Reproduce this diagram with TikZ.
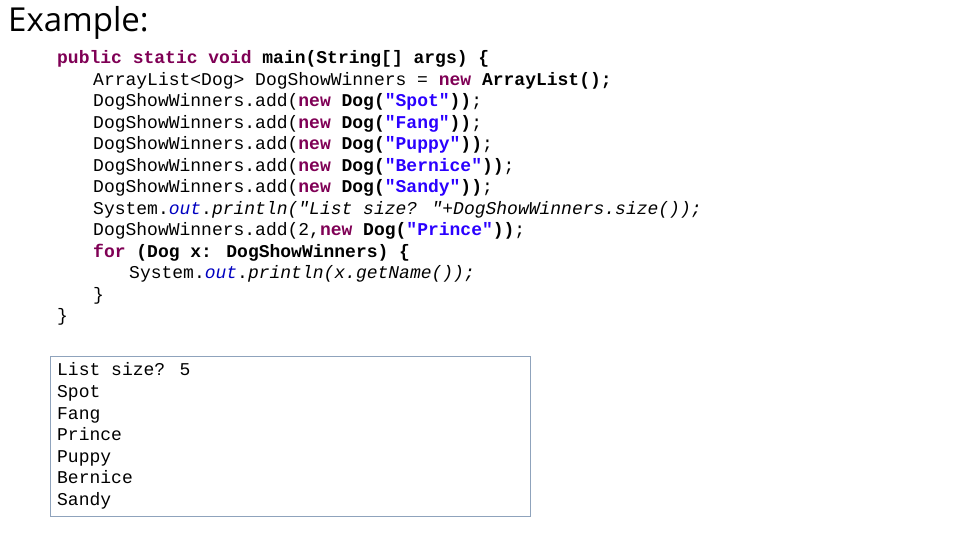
\documentclass[tikz,border=0pt]{standalone}
\usepackage{fontspec}
\setmainfont{Open Sans}
\newfontfamily\cmono{Liberation Mono}
\definecolor{kw}{HTML}{7F0055}
\definecolor{st}{HTML}{2A00FF}
\definecolor{fld}{HTML}{0000C0}
\definecolor{boxc}{HTML}{8FA3BC}
\newcommand{\kwd}[1]{\textcolor{kw}{\bfseries #1}}
\newcommand{\strg}[1]{\textcolor{st}{\bfseries #1}}
\newcommand{\outf}{\textcolor{fld}{\itshape out}}
\begin{document}
\begin{tikzpicture}[x=1bp,y=-1bp,
  code/.style={anchor=base west,inner sep=0pt,font=\cmono\fontsize{18bp}{21bp}\selectfont}]
\useasboundingbox (0,0) rectangle (960,540);
\node[anchor=base west,inner sep=0pt,font=\fontseries{l}\fontsize{33bp}{36bp}\selectfont] (title) at (8,32) {Example:};
\node[code] (l1) at (57,64) {\kwd{public static void} \textbf{main(String[] args) \{}};
\node[code] (l2) at (93,85.5) {ArrayList<Dog> DogShowWinners = \kwd{new} \textbf{ArrayList();}};
\node[code] (l3) at (93,107) {DogShowWinners.add(\kwd{new} \textbf{Dog(}\strg{"Spot"}\textbf{))};};
\node[code] (l4) at (93,128.5) {DogShowWinners.add(\kwd{new} \textbf{Dog(}\strg{"Fang"}\textbf{))};};
\node[code] (l5) at (93,150) {DogShowWinners.add(\kwd{new} \textbf{Dog(}\strg{"Puppy"}\textbf{))};};
\node[code] (l6) at (93,171.5) {DogShowWinners.add(\kwd{new} \textbf{Dog(}\strg{"Bernice"}\textbf{))};};
\node[code] (l7) at (93,193) {DogShowWinners.add(\kwd{new} \textbf{Dog(}\strg{"Sandy"}\textbf{))};};
\node[code] (l8) at (93,214.5) {System.\outf{}.{\itshape println("List size? "+DogShowWinners.size());}};
\node[code] (l9) at (93,236) {DogShowWinners.add(2,\kwd{new} \textbf{Dog(}\strg{"Prince"}\textbf{))};};
\node[code] (l10) at (93,257.5) {\kwd{for} \textbf{(Dog x: DogShowWinners) \{}};
\node[code] (l11) at (129,279) {System.\outf{}.{\itshape println(x.getName());}};
\node[code] (l12) at (93,300.5) {\}};
\node[code] (l13) at (57,322) {\}};
\draw[boxc,line width=1bp] (50,356) rectangle (530,516);
\node[code] (o1) at (57,376) {List size? 5};
\node[code] (o2) at (57,397.5) {Spot};
\node[code] (o3) at (57,419) {Fang};
\node[code] (o4) at (57,440.5) {Prince};
\node[code] (o5) at (57,462) {Puppy};
\node[code] (o6) at (57,483.5) {Bernice};
\node[code] (o7) at (57,505) {Sandy};
\end{tikzpicture}
\end{document}
